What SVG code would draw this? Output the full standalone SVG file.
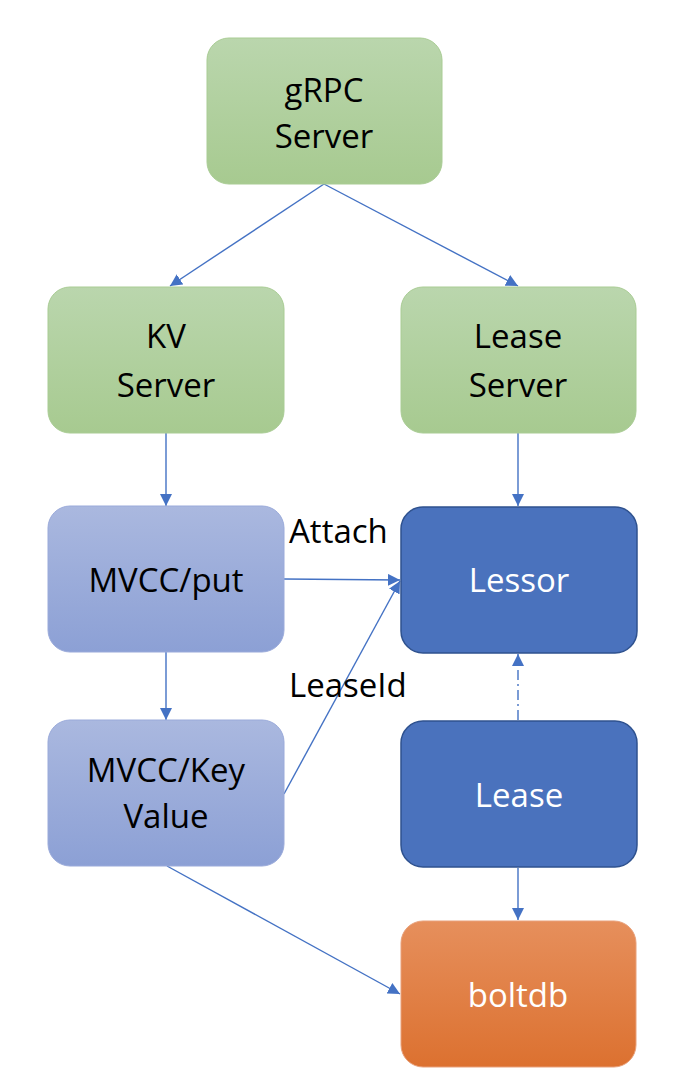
<svg xmlns="http://www.w3.org/2000/svg" width="682" height="1086" viewBox="0 0 682 1086">
<defs>
<linearGradient id="gGreen" x1="0" y1="0" x2="0" y2="1"><stop offset="0" stop-color="#bad6ad"/><stop offset="1" stop-color="#a7ca90"/></linearGradient>
<linearGradient id="gLblue" x1="0" y1="0" x2="0" y2="1"><stop offset="0" stop-color="#aab8df"/><stop offset="1" stop-color="#8ca0d5"/></linearGradient>
<linearGradient id="gOrange" x1="0" y1="0" x2="0" y2="1"><stop offset="0" stop-color="#e68f5c"/><stop offset="1" stop-color="#dc7130"/></linearGradient>
<marker id="arr" viewBox="0 0 10 10" refX="10" refY="5" markerWidth="12" markerHeight="12" markerUnits="userSpaceOnUse" orient="auto">
<path d="M0,0 L10,5 L0,10 Z" fill="#4472c4"/>
</marker>
</defs>
<style>
.green{fill:url(#gGreen);stroke:#a9cc94;stroke-width:1}
.lblue{fill:url(#gLblue);stroke:#9aaada;stroke-width:1}
.dblue{fill:#4a72bd;stroke:#2f528f;stroke-width:1.5}
.orange{fill:url(#gOrange);stroke:#e8a07a;stroke-width:1}
text{font-family:"Open Sans","Noto Sans",sans-serif;font-size:33px;text-anchor:middle}
.dk{fill:#000}
.wt{fill:#fff}
.lbl{text-anchor:start;fill:#000}
.c{stroke:#4472c4;stroke-width:1.4;fill:none}
</style>
<rect width="682" height="1086" fill="#fff"/>
<g id="connectors">
<line class="c" x1="324" y1="184" x2="170" y2="286" marker-end="url(#arr)"/>
<line class="c" x1="324" y1="184" x2="518" y2="286" marker-end="url(#arr)"/>
<line class="c" x1="166" y1="433" x2="166" y2="506" marker-end="url(#arr)"/>
<line class="c" x1="518" y1="433" x2="518" y2="506" marker-end="url(#arr)"/>
<line class="c" x1="284" y1="579" x2="400" y2="580" marker-end="url(#arr)"/>
<line class="c" x1="284" y1="794" x2="400" y2="581" marker-end="url(#arr)"/>
<line class="c" x1="166" y1="652" x2="166" y2="720" marker-end="url(#arr)"/>
<line class="c" x1="518" y1="720" x2="518" y2="654" stroke-dasharray="10,4,2,4" marker-end="url(#arr)"/>
<line class="c" x1="518" y1="868" x2="518" y2="920" marker-end="url(#arr)"/>
<line class="c" x1="167" y1="866" x2="400" y2="994" marker-end="url(#arr)"/>
<text class="lbl" x="289" y="543">Attach</text>
<text class="lbl" x="289" y="697">LeaseId</text>
</g>
<g id="grpc">
<rect class="green" x="207" y="38" width="235" height="146" rx="22"/>
<text class="dk" x="324" y="102">gRPC</text>
<text class="dk" x="324" y="148">Server</text>
</g>
<g id="kvserver">
<rect class="green" x="48" y="287" width="236" height="146" rx="22"/>
<text class="dk" x="166" y="348">KV</text>
<text class="dk" x="166" y="397">Server</text>
</g>
<g id="leaseserver">
<rect class="green" x="401" y="287" width="235" height="146" rx="22"/>
<text class="dk" x="518" y="348">Lease</text>
<text class="dk" x="518" y="397">Server</text>
</g>
<g id="mvccput">
<rect class="lblue" x="48" y="506" width="236" height="146" rx="22"/>
<text class="dk" x="166" y="592">MVCC/put</text>
</g>
<g id="lessor">
<rect class="dblue" x="401" y="507" width="236" height="146" rx="22"/>
<text class="wt" x="519" y="592">Lessor</text>
</g>
<g id="mvcckv">
<rect class="lblue" x="48" y="720" width="236" height="146" rx="22"/>
<text class="dk" x="166" y="782">MVCC/Key</text>
<text class="dk" x="166" y="828">Value</text>
</g>
<g id="lease">
<rect class="dblue" x="401" y="721" width="236" height="146" rx="22"/>
<text class="wt" x="519" y="807">Lease</text>
</g>
<g id="boltdb">
<rect class="orange" x="401" y="921" width="235" height="146" rx="22"/>
<text class="wt" x="518" y="1007">boltdb</text>
</g>
</svg>
